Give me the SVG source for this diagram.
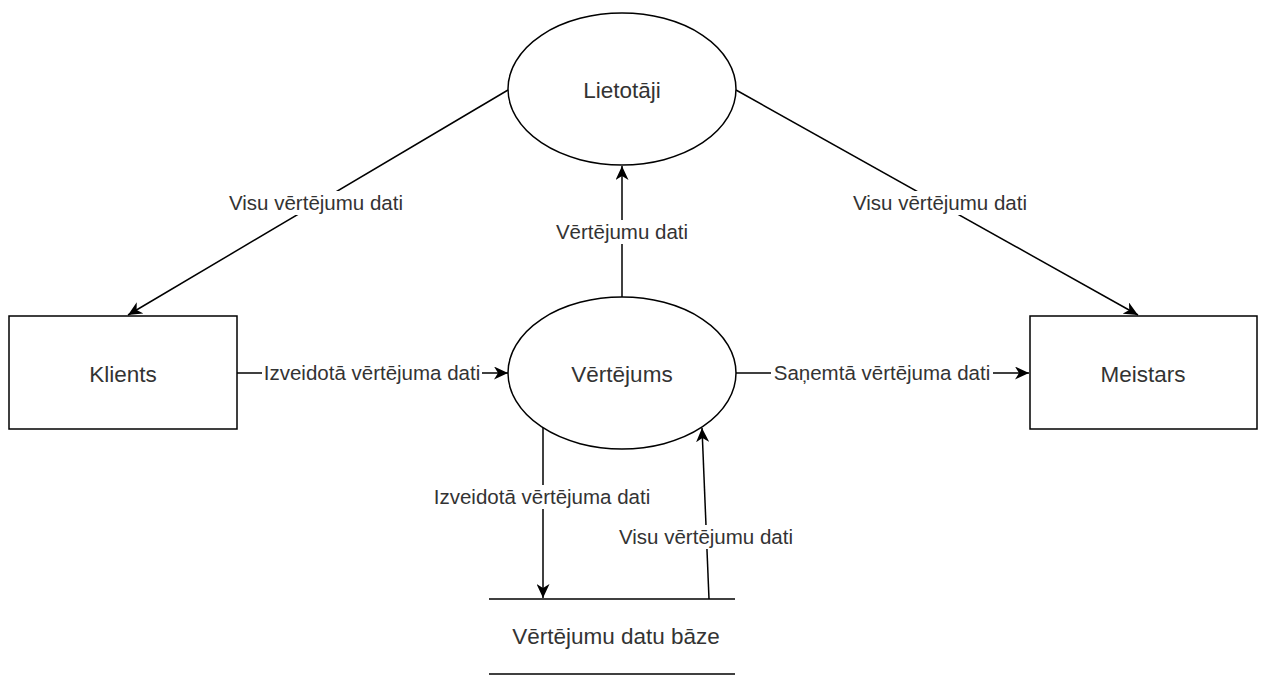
<svg xmlns="http://www.w3.org/2000/svg" width="1267" height="675" viewBox="0 0 1267 675">
<defs>
<marker id="arr" markerUnits="userSpaceOnUse" markerWidth="15" markerHeight="13" viewBox="0 0 15 13" refX="14" refY="6.5" orient="auto">
<path d="M0,0 L14,6.5 L0,13 L4,6.5 Z" fill="#000"/>
</marker>
</defs>
<style>
.shape{fill:#fff;stroke:#000;stroke-width:1.5}
.line{fill:none;stroke:#000;stroke-width:1.5}
.t{font-family:"Liberation Sans",Arial,sans-serif;font-size:20.5px;fill:#333;text-anchor:middle}
.n{font-size:22.5px}
.lb{fill:#fff;stroke:none}
</style>
<rect width="1267" height="675" fill="#fff"/>
<g id="connectors">
<line class="line" x1="508" y1="90" x2="128" y2="315" marker-end="url(#arr)"/>
<line class="line" x1="736" y1="90" x2="1138" y2="315" marker-end="url(#arr)"/>
<line class="line" x1="622" y1="297" x2="622" y2="166" marker-end="url(#arr)"/>
<line class="line" x1="237" y1="373" x2="508" y2="373" marker-end="url(#arr)"/>
<line class="line" x1="736" y1="373" x2="1029" y2="373" marker-end="url(#arr)"/>
<line class="line" x1="543" y1="428" x2="543" y2="598" marker-end="url(#arr)"/>
<line class="line" x1="709" y1="599" x2="702" y2="428" marker-end="url(#arr)"/>
<g id="labels">
<rect class="lb" x="227" y="191" width="178" height="24"/>
<text class="t" x="316" y="210">Visu vērtējumu dati</text>
<rect class="lb" x="851" y="191" width="178" height="24"/>
<text class="t" x="940" y="210">Visu vērtējumu dati</text>
<rect class="lb" x="554" y="220" width="136" height="24"/>
<text class="t" x="622" y="239">Vērtējumu dati</text>
<rect class="lb" x="262" y="361" width="220" height="24"/>
<text class="t" x="372" y="380">Izveidotā vērtējuma dati</text>
<rect class="lb" x="771" y="361" width="222" height="24"/>
<text class="t" x="882" y="380">Saņemtā vērtējuma dati</text>
<rect class="lb" x="432" y="485" width="220" height="24"/>
<text class="t" x="542" y="504">Izveidotā vērtējuma dati</text>
<rect class="lb" x="617" y="525" width="178" height="24"/>
<text class="t" x="706" y="544">Visu vērtējumu dati</text>
</g>
</g>
<g id="lietotaji">
<ellipse class="shape" cx="622" cy="89" rx="114" ry="76"/>
<text class="t n" x="622" y="98">Lietotāji</text>
</g>
<g id="vertejums">
<ellipse class="shape" cx="622" cy="373" rx="114" ry="76"/>
<text class="t n" x="622" y="382">Vērtējums</text>
</g>
<g id="klients">
<rect class="shape" x="9" y="316" width="228" height="113"/>
<text class="t n" x="123" y="382">Klients</text>
</g>
<g id="meistars">
<rect class="shape" x="1030" y="316" width="227" height="113"/>
<text class="t n" x="1143" y="382">Meistars</text>
</g>
<g id="datubaze">
<line class="line" x1="489" y1="599" x2="735" y2="599"/>
<line class="line" x1="489" y1="674" x2="735" y2="674"/>
<text class="t n" x="616" y="644">Vērtējumu datu bāze</text>
</g>
</svg>
